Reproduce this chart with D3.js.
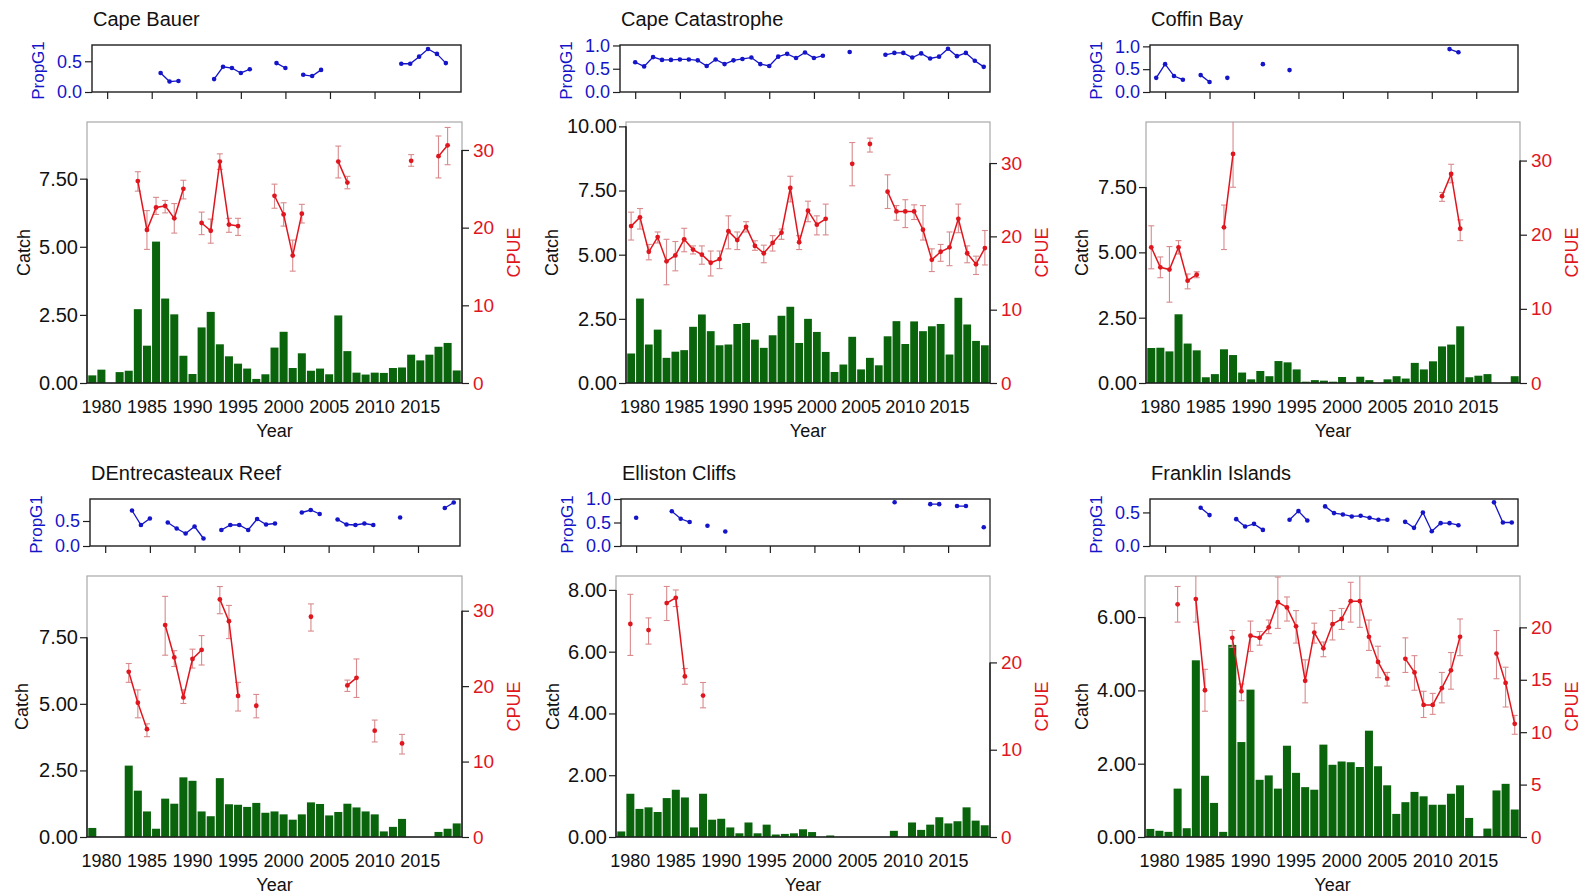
<!DOCTYPE html>
<html>
<head>
<meta charset="utf-8">
<script src="https://cdn.jsdelivr.net/npm/d3@7"></script>
<style>
body { margin: 0; background: #fff; }
</style>
</head>
<body>
<svg id="chart" width="1590" height="895"></svg>
<script>
const years = [1979, 1980, 1981, 1982, 1983, 1984, 1985, 1986, 1987, 1988, 1989, 1990, 1991, 1992,
	1993, 1994, 1995, 1996, 1997, 1998, 1999, 2000, 2001, 2002, 2003, 2004, 2005, 2006, 2007, 2008,
	2009, 2010, 2011, 2012, 2013, 2014, 2015, 2016, 2017, 2018, 2019]

// catch per year (1979..2019), cpue as [year, mean, lower, upper], propG1 as [year, value]
const capeBauerCatch = [0.28, 0.49, 0, 0.40, 0.45, 2.71, 1.37, 5.19, 3.10, 2.52, 1.00, 0.33, 2.04, 2.61,
	1.42, 0.98, 0.71, 0.53, 0.15, 0.32, 1.30, 1.88, 0.55, 1.09, 0.45, 0.53, 0.32, 2.48, 1.17, 0.38,
	0.31, 0.38, 0.37, 0.55, 0.57, 1.04, 0.83, 1.04, 1.33, 1.47, 0.46]
const capeBauerCpue = [[1984, 26.0, 24.7, 27.2], [1985, 19.7, 17.2, 22.2], [1986, 22.6, 21.7, 23.9],
	[1987, 22.8, 21.9, 23.5], [1988, 21.2, 19.3, 23.1], [1989, 25.0, 23.7, 26.1], [1991, 20.6, 19.1, 22.0],
	[1992, 19.6, 18.0, 21.1], [1993, 28.5, 27.5, 29.5], [1994, 20.4, 19.4, 21.2], [1995, 20.2, 19.0, 21.2],
	[1999, 24.1, 22.5, 25.6], [2000, 21.7, 20.2, 23.2], [2001, 16.4, 14.4, 18.4], [2002, 21.8, 20.6, 23.0],
	[2006, 28.5, 26.4, 30.5], [2007, 25.8, 25.0, 26.6], [2014, 28.6, 27.9, 29.4], [2017, 29.2, 26.4, 31.8],
	[2018, 30.6, 28.1, 32.9]]
const capeBauerProp = [[1986, 0.31], [1987, 0.17], [1988, 0.18], [1992, 0.21], [1993, 0.41], [1994, 0.39],
	[1995, 0.31], [1996, 0.37], [1999, 0.47], [2000, 0.39], [2002, 0.28], [2003, 0.26], [2004, 0.36],
	[2013, 0.46], [2014, 0.46], [2015, 0.575], [2016, 0.70], [2017, 0.62], [2018, 0.47]]

const capeCatastropheCatch = [1.15, 3.29, 1.50, 2.08, 0.98, 1.22, 1.28, 2.19, 2.67, 2.02, 1.47, 1.50, 2.30,
	2.34, 1.69, 1.37, 1.86, 2.62, 2.97, 1.56, 2.50, 1.99, 1.21, 0.43, 0.72, 1.80, 0.53, 0.98, 0.69, 1.82,
	2.41, 1.52, 2.40, 2.02, 2.21, 2.30, 1.11, 3.32, 2.28, 1.64, 1.47]
const capeCatastropheCpue = [[1979, 21.4, 19.5, 23.3], [1980, 22.6, 21.0, 23.8], [1981, 17.9, 16.8, 18.9],
	[1982, 19.9, 19.1, 20.6], [1983, 16.6, 13.4, 19.6], [1984, 17.4, 15.3, 19.3], [1985, 19.6, 17.9, 21.1],
	[1986, 18.2, 17.6, 18.7], [1987, 17.5, 16.2, 18.7], [1988, 16.4, 14.6, 18.0], [1989, 16.9, 15.6, 18.0],
	[1990, 20.7, 18.3, 22.8], [1991, 19.5, 18.2, 20.6], [1992, 21.3, 20.6, 22.0], [1993, 18.7, 18.1, 19.4],
	[1994, 17.7, 16.4, 18.8], [1995, 19.1, 18.0, 20.1], [1996, 20.5, 19.6, 21.0], [1997, 26.6, 24.7, 28.2],
	[1998, 19.2, 18.2, 20.1], [1999, 23.5, 22.0, 24.8], [2000, 21.6, 20.2, 22.8], [2001, 22.4, 20.2, 24.4],
	[2004, 29.9, 26.9, 32.8], [2006, 32.6, 31.5, 33.4], [2008, 26.1, 23.8, 28.4], [2009, 23.4, 22.2, 24.2],
	[2010, 23.4, 21.2, 25.0], [2011, 23.4, 22.3, 24.3], [2012, 20.9, 19.5, 24.2], [2013, 16.8, 15.2, 18.3],
	[2014, 17.9, 16.6, 18.9], [2015, 18.5, 16.0, 20.6], [2016, 22.4, 20.5, 24.4], [2017, 17.7, 16.4, 18.7],
	[2018, 16.2, 14.8, 17.3], [2019, 18.4, 16.1, 20.8]]
const capeCatastropheProp = [[1980, 0.64], [1981, 0.55], [1982, 0.75], [1983, 0.69], [1984, 0.69], [1985, 0.70],
	[1986, 0.70], [1987, 0.68], [1988, 0.56], [1989, 0.70], [1990, 0.60], [1991, 0.68], [1992, 0.71],
	[1993, 0.74], [1994, 0.60], [1995, 0.56], [1996, 0.76], [1997, 0.82], [1998, 0.73], [1999, 0.85],
	[2000, 0.73], [2001, 0.78], [2004, 0.86], [2008, 0.80], [2009, 0.84], [2010, 0.84], [2011, 0.74],
	[2012, 0.83], [2013, 0.72], [2014, 0.76], [2015, 0.93], [2016, 0.77], [2017, 0.84], [2018, 0.67],
	[2019, 0.54]]

const coffinBayCatch = [1.34, 1.35, 1.21, 2.63, 1.51, 1.25, 0.22, 0.34, 1.29, 1.07, 0.40, 0.14, 0.46, 0.26,
	0.84, 0.79, 0.52, 0.05, 0.11, 0.09, 0.05, 0.23, 0, 0.24, 0.11, 0, 0.14, 0.26, 0.17, 0.77, 0.52, 0.83,
	1.40, 1.47, 2.17, 0.22, 0.28, 0.34, 0, 0, 0.26]
const coffinBayCpue = [[1979, 18.3, 15.4, 21.2], [1980, 15.6, 14.2, 17.0], [1981, 15.3, 10.9, 18.4],
	[1982, 18.3, 17.4, 19.2], [1983, 13.8, 12.7, 14.7], [1984, 14.6, 14.2, 15.0], [1987, 21.0, 18.0, 24.0],
	[1988, 30.9, 26.4, 37.0], [2011, 25.2, 24.5, 25.7], [2012, 28.2, 27.0, 29.5], [2013, 20.8, 19.2, 22.0]]
const coffinBayProp = [[1979, 0.31], [1980, 0.61], [1981, 0.35], [1982, 0.27], [1984, 0.37], [1985, 0.22],
	[1987, 0.31], [1991, 0.61], [1994, 0.48], [2012, 0.94], [2013, 0.87]]

const dentrecasteauxCatch = [0.34, 0, 0, 0, 2.68, 1.74, 0.96, 0.31, 1.44, 1.25, 2.24, 2.11, 0.96, 0.78, 2.21,
	1.23, 1.21, 1.13, 1.28, 0.91, 0.96, 0.85, 0.65, 0.85, 1.30, 1.24, 0.81, 0.94, 1.25, 1.11, 0.96, 0.85,
	0.21, 0.38, 0.68, 0, 0, 0, 0.19, 0.31, 0.51]
const dentrecasteauxCpue = [[1983, 21.9, 20.5, 23.0], [1984, 17.8, 15.8, 19.5], [1985, 14.3, 13.3, 15.0],
	[1987, 28.1, 24.1, 31.9], [1988, 23.8, 22.6, 24.7], [1989, 18.5, 17.7, 19.5], [1990, 23.6, 22.4, 24.9],
	[1991, 24.8, 22.8, 26.7], [1993, 31.5, 29.6, 33.2], [1994, 28.6, 26.3, 30.7], [1995, 18.7, 16.7, 20.5],
	[1997, 17.4, 15.8, 18.9], [2003, 29.2, 27.3, 30.9], [2007, 20.1, 19.3, 20.8], [2008, 21.1, 18.5, 23.6],
	[2010, 14.1, 12.6, 15.5], [2013, 12.4, 11.0, 13.6]]
const dentrecasteauxProp = [[1983, 0.71], [1984, 0.42], [1985, 0.55], [1987, 0.47], [1988, 0.35], [1989, 0.25],
	[1990, 0.39], [1991, 0.15], [1993, 0.32], [1994, 0.42], [1995, 0.42], [1996, 0.32], [1997, 0.54],
	[1998, 0.43], [1999, 0.45], [2002, 0.67], [2003, 0.72], [2004, 0.64], [2006, 0.53], [2007, 0.43],
	[2008, 0.42], [2009, 0.45], [2010, 0.42], [2013, 0.57], [2018, 0.76], [2019, 0.87]]

const ellistonCatch = [0.18, 1.40, 0.91, 0.96, 0.81, 1.26, 1.53, 1.28, 0.31, 1.40, 0.56, 0.59, 0.31, 0.12,
	0.47, 0.12, 0.40, 0.08, 0.10, 0.12, 0.25, 0.16, 0, 0.05, 0, 0, 0, 0, 0, 0, 0.20, 0, 0.47, 0.23, 0.40,
	0.64, 0.44, 0.51, 0.96, 0.53, 0.38]
const ellistonCpue = [[1980, 24.4, 20.8, 27.8], [1982, 23.7, 22.1, 25.1], [1984, 26.8, 24.8, 28.7],
	[1985, 27.4, 26.4, 28.3], [1986, 18.4, 17.5, 19.3], [1988, 16.2, 14.8, 17.7]]
const ellistonProp = [[1980, 0.60], [1984, 0.74], [1985, 0.58], [1986, 0.51], [1988, 0.43], [1990, 0.31],
	[2009, 0.93], [2013, 0.89], [2014, 0.89], [2016, 0.85], [2017, 0.85], [2019, 0.40]]

const franklinCatch = [0.22, 0.17, 0.14, 1.32, 0.24, 4.82, 1.67, 0.93, 0.14, 5.24, 2.59, 4.02, 1.56, 1.68,
	1.32, 2.49, 1.75, 1.36, 1.29, 2.52, 1.97, 2.06, 2.04, 1.91, 2.90, 1.93, 1.41, 0.63, 0.95, 1.23, 1.11,
	0.88, 0.88, 1.18, 1.41, 0.52, 0, 0.23, 1.27, 1.45, 0.75]
const franklinCpue = [[1982, 22.2, 20.5, 23.9], [1984, 22.7, 20.5, 25.0], [1985, 14.0, 12.0, 16.0],
	[1988, 19.0, 18.1, 19.7], [1989, 13.9, 13.0, 14.6], [1990, 19.2, 17.7, 20.6], [1991, 19.0, 18.3, 19.6],
	[1992, 20.0, 19.4, 20.7], [1993, 22.4, 19.9, 24.8], [1994, 21.9, 20.6, 22.9], [1995, 20.1, 18.5, 21.6],
	[1996, 14.9, 12.8, 16.9], [1997, 19.5, 18.5, 20.4], [1998, 18.0, 17.2, 18.6], [1999, 20.3, 18.8, 21.6],
	[2000, 20.8, 19.8, 21.8], [2001, 22.5, 20.5, 24.3], [2002, 22.5, 20.0, 25.0], [2003, 19.1, 17.8, 20.7],
	[2004, 16.7, 15.2, 18.2], [2005, 15.1, 14.4, 15.7], [2007, 17.0, 15.7, 19.0], [2008, 15.7, 14.0, 17.3],
	[2009, 12.6, 11.4, 13.9], [2010, 12.6, 11.7, 13.7], [2011, 14.2, 12.8, 15.7], [2012, 15.9, 14.1, 17.6],
	[2013, 19.1, 17.3, 20.8], [2017, 17.5, 15.1, 19.7], [2018, 14.7, 12.4, 16.2], [2019, 10.8, 9.8, 11.6]]
const franklinProp = [[1984, 0.57], [1985, 0.46], [1988, 0.40], [1989, 0.29], [1990, 0.33], [1991, 0.24],
	[1994, 0.39], [1995, 0.52], [1996, 0.38], [1998, 0.59], [1999, 0.49], [2000, 0.47], [2001, 0.44],
	[2002, 0.45], [2003, 0.42], [2004, 0.39], [2005, 0.39], [2007, 0.36], [2008, 0.27], [2009, 0.50],
	[2010, 0.22], [2011, 0.34], [2012, 0.34], [2013, 0.31], [2017, 0.65], [2018, 0.35], [2019, 0.35]]

const sites = [
	{ name: 'Cape Bauer', catch: capeBauerCatch, cpue: capeBauerCpue, prop: capeBauerProp },
	{ name: 'Cape Catastrophe', catch: capeCatastropheCatch, cpue: capeCatastropheCpue, prop: capeCatastropheProp },
	{ name: 'Coffin Bay', catch: coffinBayCatch, cpue: coffinBayCpue, prop: coffinBayProp },
	{ name: 'DEntrecasteaux Reef', catch: dentrecasteauxCatch, cpue: dentrecasteauxCpue, prop: dentrecasteauxProp },
	{ name: 'Elliston Cliffs', catch: ellistonCatch, cpue: ellistonCpue, prop: ellistonProp },
	{ name: 'Franklin Islands', catch: franklinCatch, cpue: franklinCpue, prop: franklinProp },
]

// panel geometry and axis ranges
const panels = [
	{ row: 0, mainL: 87, mainR: 462, stripL: 92, stripR: 461, catchMax: 9.58, catchStep: 2.5, cpueMax: 33.6, cpueStep: 10, propMax: 0.765 },
	{ row: 0, mainL: 626, mainR: 990, stripL: 620, stripR: 990, catchMax: 10.17, catchStep: 2.5, cpueMax: 35.6, cpueStep: 10, propMax: 1.01 },
	{ row: 0, mainL: 1146, mainR: 1520, stripL: 1150, stripR: 1518, catchMax: 9.99, catchStep: 2.5, cpueMax: 35.2, cpueStep: 10, propMax: 1.03 },
	{ row: 1, mainL: 87, mainR: 462, stripL: 90, stripR: 460, catchMax: 9.8, catchStep: 2.5, cpueMax: 34.6, cpueStep: 10, propMax: 0.94 },
	{ row: 1, mainL: 616, mainR: 990, stripL: 621, stripR: 990, catchMax: 8.45, catchStep: 2, cpueMax: 29.9, cpueStep: 10, propMax: 1.0 },
	{ row: 1, mainL: 1145, mainR: 1520, stripL: 1150, stripR: 1518, catchMax: 7.12, catchStep: 2, cpueMax: 24.9, cpueStep: 5, propMax: 0.70 },
]

const font = '"Liberation Sans", Arial, Helvetica, sans-serif'
const blue = '#1414c8'
const red = '#e0161e'
const errColor = '#d98a8c'
const green = '#0a640c'
const dark = '#1e1e1e'

const svg = d3.select('#chart')

const styleAxis = (g, size, color) => {
	g.select('.domain').remove()
	g.attr('font-family', font).attr('font-size', size)
	g.selectAll('.tick line').attr('stroke', dark).attr('stroke-width', 1.2)
	g.selectAll('.tick text').attr('fill', color)
}

const stepTicks = (max, step) => d3.range(0, max + 1e-9, step)

sites.forEach((site, i) => {
	const p = panels[i]
	const oy = p.row * 454
	const stripTop = 45 + oy
	const stripBot = 92 + oy
	const mainTop = 122 + oy
	const mainBot = 383 + oy
	const g = svg.append('g').attr('class', 'panel')

	// title
	g.append('text')
		.attr('x', p.stripL + 1)
		.attr('y', 26 + oy)
		.attr('font-family', font)
		.attr('font-size', 20)
		.attr('fill', '#111')
		.text(site.name)

	// ---- PropG1 strip
	const sx = d3.scaleLinear().domain([1978.3, 2019.7]).range([p.stripL, p.stripR])
	const sy = d3.scaleLinear().domain([0, p.propMax]).range([stripBot, stripTop])

	g.append('g')
		.attr('transform', `translate(${p.stripL},0)`)
		.call(d3.axisLeft(sy).tickValues([0, 0.5, 1].filter(v => v <= p.propMax + 1e-9)).tickSize(7).tickPadding(3).tickFormat(d3.format('.1f')))
		.call(a => styleAxis(a, 18, blue))
	g.append('g')
		.attr('transform', `translate(0,${stripBot})`)
		.call(d3.axisBottom(sx).tickValues(years.filter(y => y % 5 === 0)).tickSize(7).tickFormat(''))
		.call(a => styleAxis(a, 18, dark))
	g.append('rect')
		.attr('x', p.stripL)
		.attr('y', stripTop)
		.attr('width', p.stripR - p.stripL)
		.attr('height', stripBot - stripTop)
		.attr('fill', 'none')
		.attr('stroke', dark)
		.attr('stroke-width', 1.4)

	const propByYear = new Map(site.prop)
	const propSeries = years.map(y => (propByYear.has(y) ? [y, propByYear.get(y)] : null))
	g.append('path')
		.datum(propSeries)
		.attr('fill', 'none')
		.attr('stroke', blue)
		.attr('stroke-width', 1.3)
		.attr('d', d3.line().defined(d => d).x(d => sx(d[0])).y(d => sy(d[1])))
	g.append('g')
		.selectAll('circle')
		.data(site.prop)
		.enter()
		.append('circle')
		.attr('cx', d => sx(d[0]))
		.attr('cy', d => sy(d[1]))
		.attr('r', 2.3)
		.attr('fill', blue)

	g.append('text')
		.attr('transform', `translate(${p.stripL - 48},${(stripTop + stripBot) / 2 + 2}) rotate(-90)`)
		.attr('text-anchor', 'middle')
		.attr('font-family', font)
		.attr('font-size', 17)
		.attr('fill', blue)
		.text('PropG1')

	// ---- main plot: catch bars + cpue
	const x = d3.scaleBand().domain(years).range([p.mainL, p.mainR]).paddingInner(0.12).paddingOuter(0.14)
	const xc = y => x(y) + x.bandwidth() / 2
	const yc = d3.scaleLinear().domain([0, p.catchMax]).range([mainBot, mainTop])
	const yr = d3.scaleLinear().domain([0, p.cpueMax]).range([mainBot, mainTop])
	const catchTicks = stepTicks(p.catchMax, p.catchStep)
	const cpueTicks = stepTicks(p.cpueMax, p.cpueStep)

	// light frame, dark axis lines over the ticked range
	g.append('rect')
		.attr('x', p.mainL)
		.attr('y', mainTop)
		.attr('width', p.mainR - p.mainL)
		.attr('height', mainBot - mainTop)
		.attr('fill', 'none')
		.attr('stroke', '#a8a8a8')
		.attr('stroke-width', 1.2)

	g.append('g')
		.selectAll('rect')
		.data(years.map((y, k) => [y, site.catch[k]]).filter(d => d[1] > 0))
		.enter()
		.append('rect')
		.attr('x', d => x(d[0]))
		.attr('width', x.bandwidth())
		.attr('y', d => yc(d[1]))
		.attr('height', d => mainBot - yc(d[1]))
		.attr('fill', green)

	g.append('g')
		.attr('transform', `translate(${p.mainL},0)`)
		.call(d3.axisLeft(yc).tickValues(catchTicks).tickSize(7).tickPadding(2).tickFormat(d3.format('.2f')))
		.call(a => styleAxis(a, 20, '#111'))
	g.append('g')
		.attr('transform', `translate(${p.mainR},0)`)
		.call(d3.axisRight(yr).tickValues(cpueTicks).tickSize(7).tickPadding(4).tickFormat(d3.format('d')))
		.call(a => styleAxis(a, 19, red))
	g.append('g')
		.attr('transform', `translate(0,${mainBot})`)
		.call(d3.axisBottom(x).tickValues(years.filter(y => y % 5 === 0)).tickSize(0).tickPadding(17))
		.call(a => styleAxis(a, 18, '#111'))

	const axisLines = [
		[p.mainL, yc(0), p.mainL, yc(catchTicks[catchTicks.length - 1])],
		[p.mainR, yr(0), p.mainR, yr(cpueTicks[cpueTicks.length - 1])],
		[p.mainL, mainBot, p.mainR, mainBot],
	]
	g.append('g')
		.selectAll('line')
		.data(axisLines)
		.enter()
		.append('line')
		.attr('x1', d => d[0])
		.attr('y1', d => d[1])
		.attr('x2', d => d[2])
		.attr('y2', d => d[3])
		.attr('stroke', dark)
		.attr('stroke-width', 1.6)

	// cpue with error bars, clipped to plot region
	const clipId = `clip${i}`
	g.append('clipPath')
		.attr('id', clipId)
		.append('rect')
		.attr('x', p.mainL)
		.attr('y', mainTop)
		.attr('width', p.mainR - p.mainL)
		.attr('height', mainBot - mainTop)
	const cg = g.append('g').attr('clip-path', `url(#${clipId})`)

	const err = cg.append('g').attr('stroke', errColor).attr('stroke-width', 1.1)
	site.cpue.forEach(d => {
		const cx = xc(d[0])
		err.append('line').attr('x1', cx).attr('x2', cx).attr('y1', yr(d[2])).attr('y2', yr(d[3]))
		err.append('line').attr('x1', cx - 3).attr('x2', cx + 3).attr('y1', yr(d[2])).attr('y2', yr(d[2]))
		err.append('line').attr('x1', cx - 3).attr('x2', cx + 3).attr('y1', yr(d[3])).attr('y2', yr(d[3]))
	})

	const cpueByYear = new Map(site.cpue.map(d => [d[0], d[1]]))
	const cpueSeries = years.map(y => (cpueByYear.has(y) ? [y, cpueByYear.get(y)] : null))
	cg.append('path')
		.datum(cpueSeries)
		.attr('fill', 'none')
		.attr('stroke', red)
		.attr('stroke-width', 1.5)
		.attr('d', d3.line().defined(d => d).x(d => xc(d[0])).y(d => yr(d[1])))
	cg.append('g')
		.selectAll('circle')
		.data(site.cpue)
		.enter()
		.append('circle')
		.attr('cx', d => xc(d[0]))
		.attr('cy', d => yr(d[1]))
		.attr('r', 2.4)
		.attr('fill', red)

	// axis titles
	const midY = (mainTop + mainBot) / 2
	g.append('text')
		.attr('transform', `translate(${p.stripL - 62},${midY}) rotate(-90)`)
		.attr('text-anchor', 'middle')
		.attr('font-family', font)
		.attr('font-size', 18)
		.attr('fill', '#111')
		.text('Catch')
	g.append('text')
		.attr('transform', `translate(${p.mainR + 58},${midY}) rotate(-90)`)
		.attr('text-anchor', 'middle')
		.attr('font-family', font)
		.attr('font-size', 18)
		.attr('fill', red)
		.text('CPUE')
	g.append('text')
		.attr('x', (p.mainL + p.mainR) / 2)
		.attr('y', mainBot + 54)
		.attr('text-anchor', 'middle')
		.attr('font-family', font)
		.attr('font-size', 18)
		.attr('fill', '#111')
		.text('Year')
})
</script>
</body>
</html>
